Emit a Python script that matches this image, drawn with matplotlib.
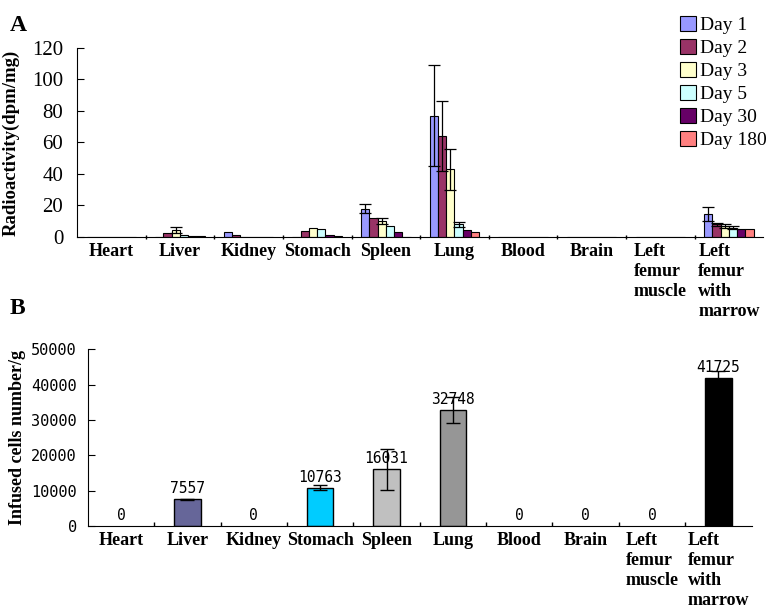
import matplotlib
matplotlib.use("Agg")
import matplotlib.pyplot as plt
import numpy as np
from matplotlib.patches import Patch

categories = ["Heart", "Liver", "Kidney", "Stomach", "Spleen", "Lung", "Blood", "Brain",
              "Left\nfemur\nmuscle", "Left\nfemur\nwith\nmarrow"]
days = ["Day 1", "Day 2", "Day 3", "Day 5", "Day 30", "Day 180"]
day_colors = ["#9999FF", "#993366", "#FFFFCC", "#CCFFFF", "#660066", "#FF8080"]

day1 = [0, 0, 3.0, 0, 18, 77, 0, 0, 0, 14.5]
day2 = [0, 2.3, 1.5, 4.0, 12, 64, 0, 0, 0, 8]
day3 = [0, 4.4, 0, 5.5, 10, 43, 0, 0, 0, 7]
day5 = [0, 1.0, 0, 5.0, 7, 8, 0, 0, 0, 6]
day30 = [0, 0.5, 0, 1.3, 3, 4.5, 0, 0, 0, 5]
day180 = [0, 0.5, 0, 0.5, 0.3, 3, 0, 0, 0, 5]
err1 = [0, 0, 0, 0, 3, 32, 0, 0, 0, 4.5]
err2 = [0, 0, 0, 0, 0, 22, 0, 0, 0, 1]
err3 = [0, 2, 0, 0, 2, 13, 0, 0, 0, 1]
err5 = [0, 0, 0, 0, 0, 1.5, 0, 0, 0, 1]
err30 = [0, 0, 0, 0, 0, 0, 0, 0, 0, 0]
err180 = [0, 0, 0, 0, 0, 0, 0, 0, 0, 0]

cells = [0, 7557, 0, 10763, 16031, 32748, 0, 0, 0, 41725]
cells_err = [0, 200, 0, 700, 5800, 3600, 0, 0, 0, 2000]
cell_colors = ["#FFFFFF", "#666699", "#FFFFFF", "#00CCFF", "#C0C0C0", "#969696",
               "#FFFFFF", "#FFFFFF", "#FFFFFF", "#000000"]

serif = "Liberation Serif"
mono = "DejaVu Sans Mono"

fig = plt.figure(figsize=(7.78, 6.14), dpi=100)

# ---------- Panel A ----------
axA = fig.add_axes([0.099, 0.614, 0.882, 0.308])
x = np.arange(len(categories))
series = [day1, day2, day3, day5, day30, day180]
errs = [err1, err2, err3, err5, err30, err180]
bw = 0.12
for i, (vals, e, c) in enumerate(zip(series, errs, day_colors)):
    pos = x + (i - 2.5) * bw
    axA.bar(pos, vals, width=bw, color=c, edgecolor="black", linewidth=0.8, zorder=2)
    ea = np.array(e)
    mask = ea > 0
    axA.errorbar(pos[mask], np.array(vals)[mask], yerr=ea[mask], fmt="none",
                 ecolor="black", elinewidth=0.9, capsize=4, capthick=0.9, zorder=3)
axA.set_xlim(-0.5, len(categories) - 0.5)
axA.set_ylim(0, 120)
axA.set_yticks(np.arange(0, 121, 20))
axA.set_xticks(x)
axA.set_xticklabels(categories, fontfamily=serif, fontweight="bold", fontsize=13,
                    va="top", linespacing=1.25, multialignment="left")
axA.set_xticks(np.arange(0.5, len(categories) - 0.5, 1), minor=True)
axA.tick_params(axis="x", which="major", length=0, pad=4)
axA.tick_params(axis="x", which="minor", length=3, direction="inout", width=1)
axA.tick_params(axis="y", direction="in", length=5, labelsize=15, pad=10)
for lab in axA.get_yticklabels():
    lab.set_fontfamily(serif)
axA.set_ylabel("Radioactivity(dpm/mg)", fontfamily=serif, fontweight="bold", fontsize=13.5)
axA.yaxis.set_label_coords(-0.083, 0.5)
for s in ["top", "right"]:
    axA.spines[s].set_visible(False)
handles = [Patch(facecolor=c, edgecolor="black", linewidth=0.8) for c in day_colors]
fig.legend(handles, days, loc="upper left", bbox_to_anchor=(0.862, 0.99), frameon=False,
           prop={"family": serif, "size": 14}, handlelength=0.8, handleheight=0.8,
           handletextpad=0.2, labelspacing=0.25, borderpad=0)
fig.text(0.012, 0.975, "A", fontfamily=serif, fontweight="bold", fontsize=17, va="top")

# ---------- Panel B ----------
axB = fig.add_axes([0.113, 0.1433, 0.853, 0.288])
cv = np.array(cells)
nz = cv > 0
axB.bar(x[nz], cv[nz], width=0.4, color=np.array(cell_colors)[nz], edgecolor="black",
        linewidth=1.0, zorder=2)
ce = np.array(cells_err)
m = ce > 0
axB.errorbar(x[m], cv[m], yerr=ce[m], fmt="none", ecolor="black",
             elinewidth=1.0, capsize=5, capthick=1.0, zorder=3)
for xi, v in zip(x, cells):
    axB.text(xi, v + 900, f"{v}", ha="center", va="bottom", fontfamily=mono, fontsize=10.5)
axB.set_xlim(-0.5, len(categories) - 0.5)
axB.set_ylim(0, 50000)
axB.set_yticks(np.arange(0, 50001, 10000))
axB.set_xticks(x)
axB.set_xticklabels(categories, fontfamily=serif, fontweight="bold", fontsize=13,
                    va="top", linespacing=1.25, multialignment="left")
axB.set_xticks(np.arange(0.5, len(categories) - 0.5, 1), minor=True)
axB.tick_params(axis="x", which="major", length=0, pad=4)
axB.tick_params(axis="x", which="minor", length=3, direction="in", width=1)
axB.tick_params(axis="y", direction="in", length=5, labelsize=11, pad=8)
for lab in axB.get_yticklabels():
    lab.set_fontfamily(mono)
axB.set_ylabel("Infused cells number/g", fontfamily=serif, fontweight="bold", fontsize=13)
for s in ["top", "right"]:
    axB.spines[s].set_visible(False)
fig.text(0.012, 0.515, "B", fontfamily=serif, fontweight="bold", fontsize=17, va="top")

fig.savefig("out.png", dpi=100)
